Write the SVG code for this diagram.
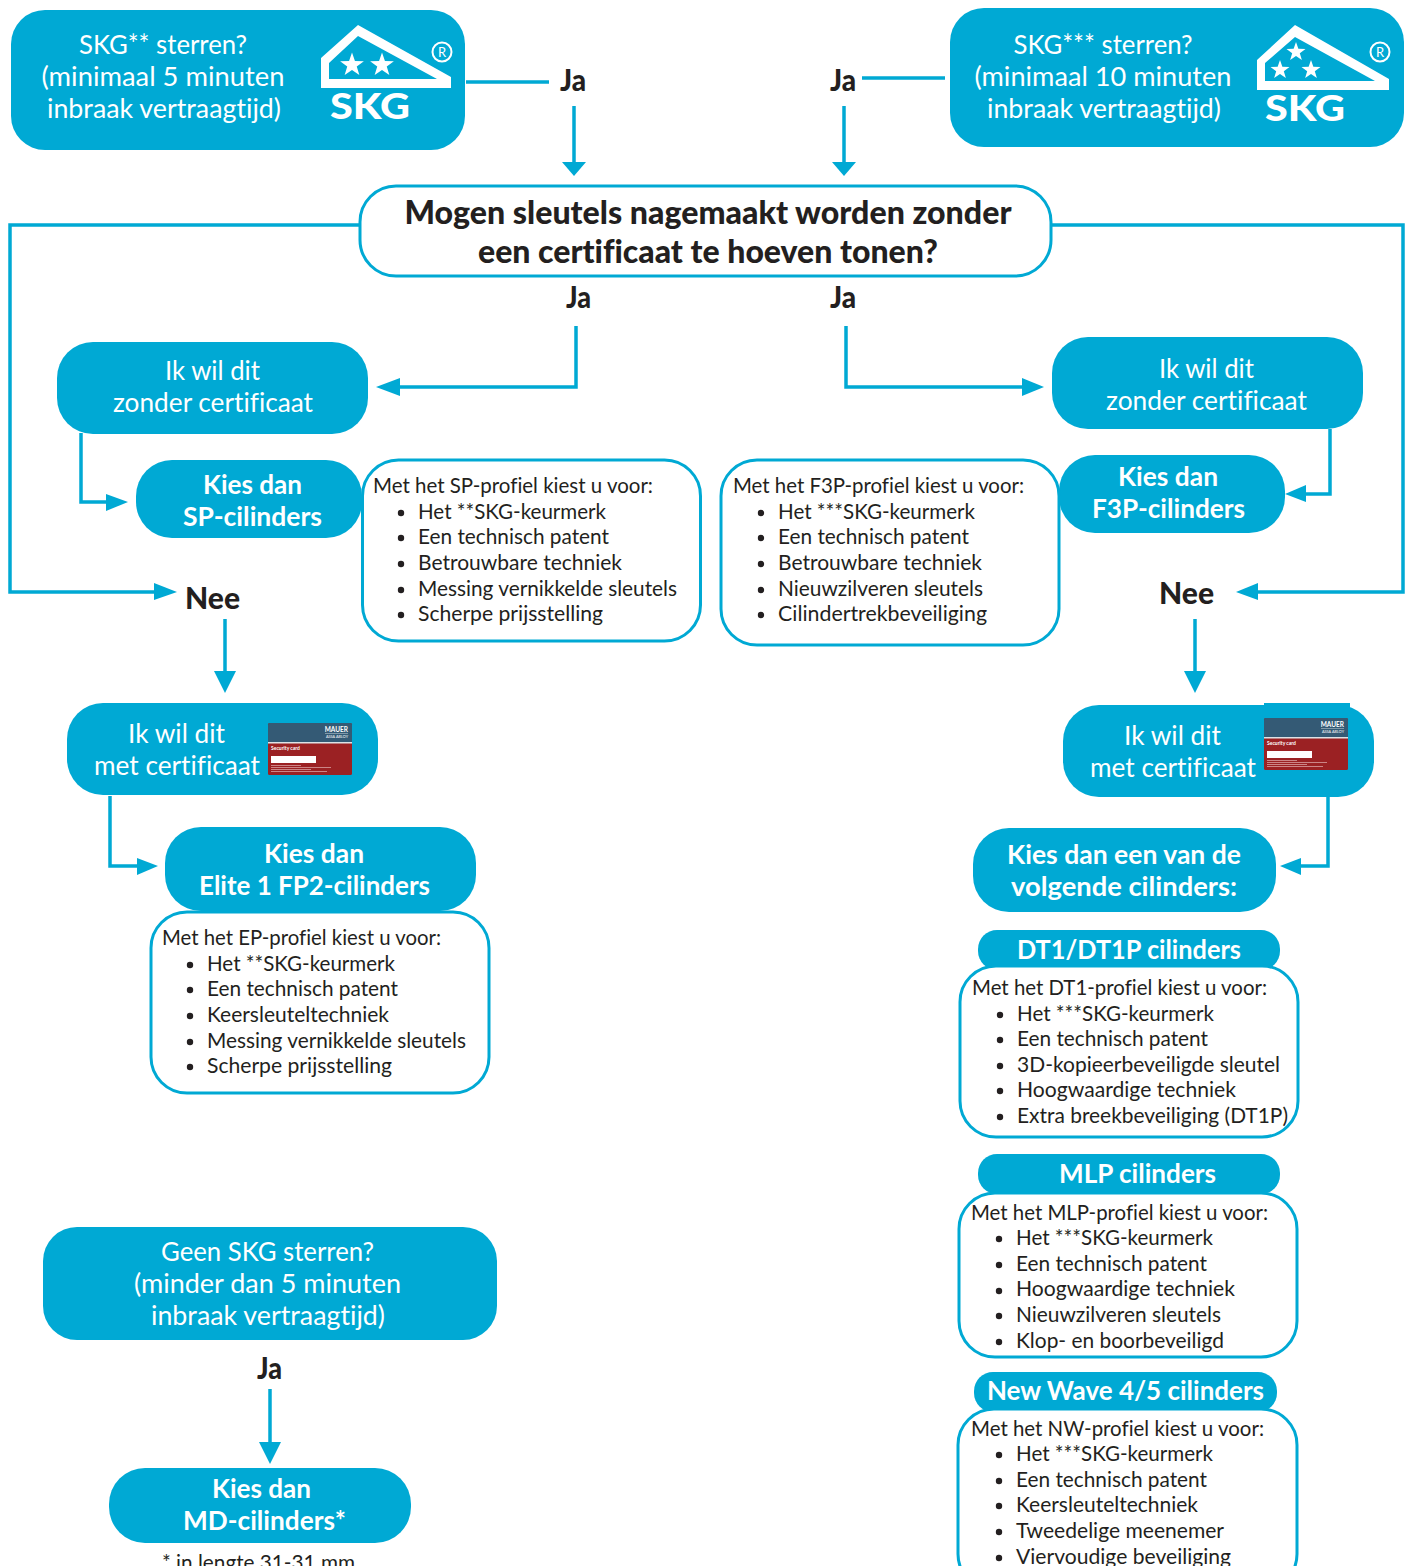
<svg xmlns="http://www.w3.org/2000/svg" xmlns:xlink="http://www.w3.org/1999/xlink" width="1408" height="1566" viewBox="0 0 1408 1566">
<style>
text{font-family:"Lato","Noto Sans",sans-serif;font-variant-ligatures:none}
.f{fill:#00a9d4}
.b{fill:#fff;stroke:#00a9d4;stroke-width:3}
.w{fill:#fff;font-size:26.500px;text-anchor:middle}
.wb{fill:#fff;font-size:27px;font-weight:700;text-anchor:middle}
.k{fill:#231f20;font-size:30px;font-weight:900}
.q{fill:#231f20;font-size:31.500px;font-weight:900;text-anchor:middle}
.t{fill:#231f20;font-size:21.500px}
.d{fill:#231f20}
.l{fill:#fff}
.logo{fill:#fff;font-size:36px;font-weight:900}
.c{fill:none;stroke:#00a9d4;stroke-width:3.5}
.h{fill:#00a9d4}
</style>
<defs>
<polygon id="star" points="0,-10 2.35,-3.24 9.51,-3.09 3.8,1.24 5.88,8.09 0,4 -5.88,8.09 -3.8,1.24 -9.51,-3.09 -2.35,-3.24"/>
<g id="card">
<rect width="84" height="52" rx="1.5" fill="#9b2123"/>
<path d="M0 1.5a1.5 1.5 0 0 1 1.500-1.500h81a1.500 1.500 0 0 1 1.500 1.500V19H0z" fill="#345a75"/>
<rect y="19" width="84" height="1.500" fill="#dde3e6"/>
<text x="80" y="8.500" text-anchor="end" font-size="6.500" font-weight="700" fill="#fff">MAUER</text>
<rect x="57" y="10" width="23" height=".5" fill="#cfd8de"/>
<text x="80" y="15" text-anchor="end" font-size="3.800" fill="#fff">ASSA ABLOY</text>
<text x="3" y="27" font-size="5" font-weight="700" fill="#fff">Security card</text>
<rect x="3" y="33" width="45" height="7" fill="#fff"/>
<path d="M3 42.500h30M3 44.500h60M3 46.500h40M3 48.500h56" stroke="#eec9c9" stroke-width=".6" fill="none"/>
</g>
</defs>

<g id="connectors">
<path class="c" d="M466 82H549M574 106V164M862 78H945M844 106V164"/>
<path class="c" d="M360 225H10V592H156M1051 225H1403V592H1256"/>
<path class="c" d="M576 326V387H398M846 326V387H1024"/>
<path class="c" d="M81 433V502H108M1330 429V494H1304"/>
<path class="c" d="M225 619V673M1195 619V673"/>
<path class="c" d="M110 796V866H139M1328 797V866H1299"/>
<path class="c" d="M270 1389V1444"/>
<g class="h">
<polygon points="562,162 586,162 574,176"/>
<polygon points="832,162 856,162 844,176"/>
<polygon points="154,583 154,600 177,592"/>
<polygon points="1258,583 1258,600 1236,592"/>
<polygon points="400,378 400,396 376,387"/>
<polygon points="1022,378 1022,396 1044,387"/>
<polygon points="106,494 106,511 128,502"/>
<polygon points="1306,485 1306,502 1285,494"/>
<polygon points="214,671 236,671 225,693"/>
<polygon points="1184,671 1206,671 1195,693"/>
<polygon points="137,858 137,875 158,866"/>
<polygon points="1301,858 1301,875 1280,866"/>
<polygon points="259,1442 281,1442 270,1464"/>
</g>
</g>

<g id="skg2">
<rect class="f" x="11" y="10" width="454" height="140" rx="34"/>
<text class="w" x="163" y="54" textLength="168" lengthAdjust="spacingAndGlyphs">SKG** sterren?</text>
<text class="w" x="163" y="86" textLength="243" lengthAdjust="spacingAndGlyphs">(minimaal 5 minuten</text>
<text class="w" x="164" y="118" textLength="234" lengthAdjust="spacingAndGlyphs">inbraak vertraagtijd)</text>
<path class="l" fill-rule="evenodd" d="M321 58L358 25L451 77V88H321ZM329 79H437L358 36L329 63Z"/>
<use href="#star" class="l" transform="translate(352 65) scale(1.25)"/>
<use href="#star" class="l" transform="translate(382 65) scale(1.25)"/>
<circle cx="442" cy="52" r="9.500" fill="none" stroke="#fff" stroke-width="2"/>
<text x="442" y="57" text-anchor="middle" font-size="13" fill="#fff">R</text>
<text class="logo" x="330" y="119" textLength="80" lengthAdjust="spacingAndGlyphs">SKG</text>
</g>

<g id="skg3">
<rect class="f" x="950" y="8" width="454" height="139" rx="34"/>
<text class="w" x="1103" y="54" textLength="179" lengthAdjust="spacingAndGlyphs">SKG*** sterren?</text>
<text class="w" x="1103" y="86" textLength="257" lengthAdjust="spacingAndGlyphs">(minimaal 10 minuten</text>
<text class="w" x="1104" y="118" textLength="234" lengthAdjust="spacingAndGlyphs">inbraak vertraagtijd)</text>
<path class="l" fill-rule="evenodd" d="M1257 60L1295 25L1389 79V90H1257ZM1265 81H1375L1295 37L1265 63Z"/>
<use href="#star" class="l" transform="translate(1296 52)"/>
<use href="#star" class="l" transform="translate(1280 70)"/>
<use href="#star" class="l" transform="translate(1311 70)"/>
<circle cx="1380" cy="52" r="9.500" fill="none" stroke="#fff" stroke-width="2"/>
<text x="1380" y="57" text-anchor="middle" font-size="13" fill="#fff">R</text>
<text class="logo" x="1265" y="121" textLength="80" lengthAdjust="spacingAndGlyphs">SKG</text>
</g>

<g id="ja-labels">
<text class="k" x="560" y="91" textLength="26" lengthAdjust="spacingAndGlyphs">Ja</text>
<text class="k" x="830" y="91" textLength="26" lengthAdjust="spacingAndGlyphs">Ja</text>
<text class="k" x="566" y="308" textLength="25" lengthAdjust="spacingAndGlyphs">Ja</text>
<text class="k" x="830" y="308" textLength="26" lengthAdjust="spacingAndGlyphs">Ja</text>
<text class="k" x="257" y="1379" textLength="25" lengthAdjust="spacingAndGlyphs">Ja</text>
<text class="k" x="185" y="609" textLength="55" lengthAdjust="spacingAndGlyphs">Nee</text>
<text class="k" x="1159" y="604" textLength="55" lengthAdjust="spacingAndGlyphs">Nee</text>
</g>

<g id="vraag">
<rect class="b" x="360" y="186" width="691" height="90" rx="36"/>
<text class="q" x="708" y="224" textLength="607" lengthAdjust="spacingAndGlyphs">Mogen sleutels nagemaakt worden zonder</text>
<text class="q" x="708" y="263" textLength="460" lengthAdjust="spacingAndGlyphs">een certificaat te hoeven tonen?</text>
</g>

<g id="zonder-links">
<rect class="f" x="57" y="342" width="311" height="92" rx="36"/>
<text class="w" x="212.500" y="380" textLength="95" lengthAdjust="spacingAndGlyphs">Ik wil dit</text>
<text class="w" x="213" y="412" textLength="200" lengthAdjust="spacingAndGlyphs">zonder certificaat</text>
</g>
<g id="zonder-rechts">
<rect class="f" x="1052" y="337" width="311" height="92" rx="36"/>
<text class="w" x="1206.500" y="378" textLength="95" lengthAdjust="spacingAndGlyphs">Ik wil dit</text>
<text class="w" x="1206.500" y="410" textLength="201" lengthAdjust="spacingAndGlyphs">zonder certificaat</text>
</g>

<g id="kies-sp">
<rect class="f" x="136" y="460" width="226" height="78" rx="36"/>
<text class="wb" x="252.500" y="494" textLength="99" lengthAdjust="spacingAndGlyphs">Kies dan</text>
<text class="wb" x="252.500" y="526" textLength="139" lengthAdjust="spacingAndGlyphs">SP-cilinders</text>
</g>
<g id="kies-f3p">
<rect class="f" x="1059" y="455" width="226" height="78" rx="36"/>
<text class="wb" x="1168" y="486" textLength="100" lengthAdjust="spacingAndGlyphs">Kies dan</text>
<text class="wb" x="1168.500" y="518" textLength="153" lengthAdjust="spacingAndGlyphs">F3P-cilinders</text>
</g>

<g id="sp-profiel">
<rect class="b" x="362.500" y="460" width="338" height="181" rx="36"/>
<text class="t" x="373" y="493" textLength="280" lengthAdjust="spacingAndGlyphs">Met het SP-profiel kiest u voor:</text>
<g class="d"><circle cx="401" cy="513" r="3.200"/><circle cx="401" cy="538" r="3.200"/><circle cx="401" cy="564" r="3.200"/><circle cx="401" cy="590" r="3.200"/><circle cx="401" cy="615" r="3.200"/></g>
<text class="t" x="418" y="519" textLength="188" lengthAdjust="spacingAndGlyphs">Het **SKG-keurmerk</text>
<text class="t" x="418" y="544" textLength="191" lengthAdjust="spacingAndGlyphs">Een technisch patent</text>
<text class="t" x="418" y="570" textLength="204" lengthAdjust="spacingAndGlyphs">Betrouwbare techniek</text>
<text class="t" x="418" y="596" textLength="259" lengthAdjust="spacingAndGlyphs">Messing vernikkelde sleutels</text>
<text class="t" x="418" y="621" textLength="185" lengthAdjust="spacingAndGlyphs">Scherpe prijsstelling</text>
</g>

<g id="f3p-profiel">
<rect class="b" x="721" y="460" width="338" height="185" rx="36"/>
<text class="t" x="733" y="493" textLength="291" lengthAdjust="spacingAndGlyphs">Met het F3P-profiel kiest u voor:</text>
<g class="d"><circle cx="761" cy="513" r="3.200"/><circle cx="761" cy="538" r="3.200"/><circle cx="761" cy="564" r="3.200"/><circle cx="761" cy="590" r="3.200"/><circle cx="761" cy="615" r="3.200"/></g>
<text class="t" x="778" y="519" textLength="197" lengthAdjust="spacingAndGlyphs">Het ***SKG-keurmerk</text>
<text class="t" x="778" y="544" textLength="191" lengthAdjust="spacingAndGlyphs">Een technisch patent</text>
<text class="t" x="778" y="570" textLength="204" lengthAdjust="spacingAndGlyphs">Betrouwbare techniek</text>
<text class="t" x="778" y="596" textLength="205" lengthAdjust="spacingAndGlyphs">Nieuwzilveren sleutels</text>
<text class="t" x="778" y="621" textLength="209" lengthAdjust="spacingAndGlyphs">Cilindertrekbeveiliging</text>
</g>

<g id="met-links">
<rect class="f" x="67" y="703" width="311" height="92" rx="36"/>
<text class="w" x="176.500" y="743" textLength="97" lengthAdjust="spacingAndGlyphs">Ik wil dit</text>
<text class="w" x="177" y="775" textLength="166" lengthAdjust="spacingAndGlyphs">met certificaat</text>
<use href="#card" x="268" y="723"/>
</g>
<g id="met-rechts">
<rect class="f" x="1063" y="705" width="311" height="92" rx="36"/>
<rect class="f" x="1264" y="703" width="86" height="30"/>
<text class="w" x="1172.500" y="745" textLength="97" lengthAdjust="spacingAndGlyphs">Ik wil dit</text>
<text class="w" x="1173" y="777" textLength="166" lengthAdjust="spacingAndGlyphs">met certificaat</text>
<use href="#card" x="1264" y="718"/>
</g>

<g id="kies-elite">
<rect class="f" x="165" y="827" width="311" height="84" rx="36"/>
<text class="wb" x="314" y="863" textLength="100" lengthAdjust="spacingAndGlyphs">Kies dan</text>
<text class="wb" x="314.500" y="895" textLength="231" lengthAdjust="spacingAndGlyphs">Elite 1 FP2-cilinders</text>
</g>
<g id="ep-profiel">
<rect class="b" x="151" y="912" width="338" height="181" rx="36"/>
<text class="t" x="162" y="945" textLength="279" lengthAdjust="spacingAndGlyphs">Met het EP-profiel kiest u voor:</text>
<g class="d"><circle cx="190" cy="965" r="3.200"/><circle cx="190" cy="990" r="3.200"/><circle cx="190" cy="1016" r="3.200"/><circle cx="190" cy="1042" r="3.200"/><circle cx="190" cy="1067" r="3.200"/></g>
<text class="t" x="207" y="971" textLength="188" lengthAdjust="spacingAndGlyphs">Het **SKG-keurmerk</text>
<text class="t" x="207" y="996" textLength="191" lengthAdjust="spacingAndGlyphs">Een technisch patent</text>
<text class="t" x="207" y="1022" textLength="182" lengthAdjust="spacingAndGlyphs">Keersleuteltechniek</text>
<text class="t" x="207" y="1048" textLength="259" lengthAdjust="spacingAndGlyphs">Messing vernikkelde sleutels</text>
<text class="t" x="207" y="1073" textLength="185" lengthAdjust="spacingAndGlyphs">Scherpe prijsstelling</text>
</g>

<g id="kies-een">
<rect class="f" x="973" y="828" width="303" height="84" rx="36"/>
<text class="wb" x="1124" y="864" textLength="234" lengthAdjust="spacingAndGlyphs">Kies dan een van de</text>
<text class="wb" x="1124" y="896" textLength="226" lengthAdjust="spacingAndGlyphs">volgende cilinders:</text>
</g>

<g id="dt1">
<rect class="f" x="978" y="930" width="302" height="40" rx="19"/>
<text class="wb" x="1129" y="959" textLength="224" lengthAdjust="spacingAndGlyphs">DT1/DT1P cilinders</text>
<rect class="b" x="960" y="966" width="338" height="171" rx="36"/>
<text class="t" x="972" y="995" textLength="295" lengthAdjust="spacingAndGlyphs">Met het DT1-profiel kiest u voor:</text>
<g class="d"><circle cx="1000" cy="1015" r="3.200"/><circle cx="1000" cy="1040" r="3.200"/><circle cx="1000" cy="1066" r="3.200"/><circle cx="1000" cy="1091" r="3.200"/><circle cx="1000" cy="1117" r="3.200"/></g>
<text class="t" x="1017" y="1021" textLength="197" lengthAdjust="spacingAndGlyphs">Het ***SKG-keurmerk</text>
<text class="t" x="1017" y="1046" textLength="191" lengthAdjust="spacingAndGlyphs">Een technisch patent</text>
<text class="t" x="1017" y="1072" textLength="263" lengthAdjust="spacingAndGlyphs">3D-kopieerbeveiligde sleutel</text>
<text class="t" x="1017" y="1097" textLength="219" lengthAdjust="spacingAndGlyphs">Hoogwaardige techniek</text>
<text class="t" x="1017" y="1123" textLength="271" lengthAdjust="spacingAndGlyphs">Extra breekbeveiliging (DT1P)</text>
</g>

<g id="mlp">
<rect class="f" x="978" y="1154" width="302" height="40" rx="19"/>
<text class="wb" x="1137.500" y="1183" textLength="157" lengthAdjust="spacingAndGlyphs">MLP cilinders</text>
<rect class="b" x="959" y="1193" width="338" height="164" rx="36"/>
<text class="t" x="971" y="1220" textLength="297" lengthAdjust="spacingAndGlyphs">Met het MLP-profiel kiest u voor:</text>
<g class="d"><circle cx="999" cy="1239" r="3.200"/><circle cx="999" cy="1265" r="3.200"/><circle cx="999" cy="1291" r="3.200"/><circle cx="999" cy="1316" r="3.200"/><circle cx="999" cy="1342" r="3.200"/></g>
<text class="t" x="1016" y="1245" textLength="197" lengthAdjust="spacingAndGlyphs">Het ***SKG-keurmerk</text>
<text class="t" x="1016" y="1271" textLength="191" lengthAdjust="spacingAndGlyphs">Een technisch patent</text>
<text class="t" x="1016" y="1296" textLength="219" lengthAdjust="spacingAndGlyphs">Hoogwaardige techniek</text>
<text class="t" x="1016" y="1322" textLength="205" lengthAdjust="spacingAndGlyphs">Nieuwzilveren sleutels</text>
<text class="t" x="1016" y="1348" textLength="208" lengthAdjust="spacingAndGlyphs">Klop- en boorbeveiligd</text>
</g>

<g id="nw">
<rect class="f" x="974" y="1372" width="303" height="40" rx="19"/>
<text class="wb" x="1125.500" y="1400" textLength="277" lengthAdjust="spacingAndGlyphs">New Wave 4/5 cilinders</text>
<rect class="b" x="958" y="1409" width="339" height="181" rx="36"/>
<text class="t" x="971" y="1436" textLength="293" lengthAdjust="spacingAndGlyphs">Met het NW-profiel kiest u voor:</text>
<g class="d"><circle cx="999" cy="1455" r="3.200"/><circle cx="999" cy="1481" r="3.200"/><circle cx="999" cy="1506" r="3.200"/><circle cx="999" cy="1532" r="3.200"/><circle cx="999" cy="1558" r="3.200"/></g>
<text class="t" x="1016" y="1461" textLength="197" lengthAdjust="spacingAndGlyphs">Het ***SKG-keurmerk</text>
<text class="t" x="1016" y="1487" textLength="191" lengthAdjust="spacingAndGlyphs">Een technisch patent</text>
<text class="t" x="1016" y="1512" textLength="182" lengthAdjust="spacingAndGlyphs">Keersleuteltechniek</text>
<text class="t" x="1016" y="1538" textLength="208" lengthAdjust="spacingAndGlyphs">Tweedelige meenemer</text>
<text class="t" x="1016" y="1564" textLength="215" lengthAdjust="spacingAndGlyphs">Viervoudige beveiliging</text>
</g>

<g id="geen-skg">
<rect class="f" x="43" y="1227" width="454" height="113" rx="34"/>
<text class="w" x="267.500" y="1261" textLength="213" lengthAdjust="spacingAndGlyphs">Geen SKG sterren?</text>
<text class="w" x="267.500" y="1293" textLength="267" lengthAdjust="spacingAndGlyphs">(minder dan 5 minuten</text>
<text class="w" x="268" y="1325" textLength="234" lengthAdjust="spacingAndGlyphs">inbraak vertraagtijd)</text>
</g>
<g id="kies-md">
<rect class="f" x="109" y="1468" width="302" height="75" rx="36"/>
<text class="wb" x="261.500" y="1498" textLength="99" lengthAdjust="spacingAndGlyphs">Kies dan</text>
<text class="wb" x="264.500" y="1530" textLength="163" lengthAdjust="spacingAndGlyphs">MD-cilinders*</text>
</g>
<text class="t" x="162" y="1570" textLength="193" lengthAdjust="spacingAndGlyphs">* in lengte 31-31 mm</text>
</svg>
